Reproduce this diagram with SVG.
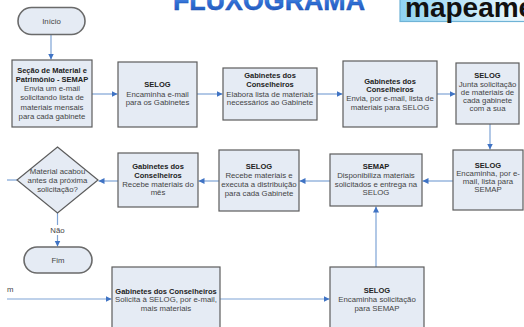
<svg xmlns="http://www.w3.org/2000/svg" width="524" height="327" viewBox="0 0 524 327">
<defs>
<style>
.box{fill:#e5ebf4;stroke:#5c5c5c;stroke-width:1.2}
.term{fill:#e5ebf4;stroke:#6a6a6a;stroke-width:1.6}
.b{font-family:"Liberation Sans",Arial,sans-serif;font-size:7.5px;font-weight:bold;fill:#222;text-anchor:middle}
.t{font-family:"Liberation Sans",Arial,sans-serif;font-size:7.8px;fill:#444;text-anchor:middle}
.c{fill:none;stroke:#7ea3d6;stroke-width:1.2}
</style>
<marker id="ah" markerWidth="8" markerHeight="8" refX="6" refY="3" orient="auto" markerUnits="userSpaceOnUse">
<path d="M0,0 L6,3 L0,6 Z" fill="#3f73c4"/>
</marker>
<linearGradient id="tg" x1="0" y1="0" x2="0" y2="1">
<stop offset="0" stop-color="#9cc6f5"/>
<stop offset="0.55" stop-color="#2f6fd6"/>
<stop offset="1" stop-color="#1d4fb2"/>
</linearGradient>
<linearGradient id="mg" x1="0" y1="0" x2="1" y2="0">
<stop offset="0" stop-color="#8fd3f2"/>
<stop offset="1" stop-color="#f2fbff"/>
</linearGradient>
</defs>

<g id="title">
<text x="173" y="10" font-family="'Liberation Sans',Arial,sans-serif" font-weight="bold" font-size="27" fill="url(#tg)" stroke="#1d4fb2" stroke-width="0.4" textLength="192" lengthAdjust="spacingAndGlyphs">FLUXOGRAMA</text>
</g>
<g id="mapeamento">
<rect x="400" y="-6" width="130" height="27.5" fill="url(#mg)" stroke="#6fb3d6" stroke-width="1.2"/>
<text x="405" y="17" font-family="'Liberation Sans',Arial,sans-serif" font-weight="bold" font-size="28" fill="#111">mapeamento</text>
</g>

<g id="connectors">
<path class="c" d="M51,35 V59.5" marker-end="url(#ah)"/>
<path class="c" d="M92,94 H117.5" marker-end="url(#ah)"/>
<path class="c" d="M197,94 H222.5" marker-end="url(#ah)"/>
<path class="c" d="M317,94 H342.5" marker-end="url(#ah)"/>
<path class="c" d="M437,94 H455.5" marker-end="url(#ah)"/>
<path class="c" d="M490,124 V149.5" marker-end="url(#ah)"/>
<path class="c" d="M453,181 H422.5" marker-end="url(#ah)"/>
<path class="c" d="M330,181 H299.5" marker-end="url(#ah)"/>
<path class="c" d="M219,181 H198.5" marker-end="url(#ah)"/>
<path class="c" d="M118,181 H98.5" marker-end="url(#ah)"/>
<path class="c" d="M17,180 H7"/>
<path class="c" d="M57.5,213 V246.5" marker-end="url(#ah)"/>
<path class="c" d="M376,267 V206.5" marker-end="url(#ah)"/>
<path class="c" d="M7,299 H111.5" marker-end="url(#ah)"/>
<path class="c" d="M220,299 H329.5" marker-end="url(#ah)"/>
<rect x="47" y="225" width="21" height="10" fill="#fff"/>
<text x="57.5" y="233" font-family="'Liberation Sans',Arial,sans-serif" font-size="7.8" fill="#444" text-anchor="middle">Não</text>
<text x="7" y="292" font-family="'Liberation Sans',Arial,sans-serif" font-size="7.8" fill="#444">m</text>
</g>

<g id="inicio">
<rect class="term" x="18" y="7.5" width="67" height="27" rx="13.5"/>
<text class="t" x="51.5" y="23.8">Início</text>
</g>

<g id="semap1">
<rect class="box" x="12" y="60" width="80" height="67"/>
<text class="b" x="52" y="72.8">Seção de Material e</text>
<text class="b" x="52" y="81.8">Patrimônio - SEMAP</text>
<text class="t" x="52" y="91">Envia um e-mail</text>
<text class="t" x="52" y="100.3">solicitando lista de</text>
<text class="t" x="52" y="109.6">materiais mensais</text>
<text class="t" x="52" y="118.9">para cada gabinete</text>
</g>

<g id="selog1">
<rect class="box" x="118" y="62" width="79" height="65"/>
<text class="b" x="157.5" y="87">SELOG</text>
<text class="t" x="157.5" y="96.8">Encaminha e-mail</text>
<text class="t" x="157.5" y="105.3">para os Gabinetes</text>
</g>

<g id="gab1">
<rect class="box" x="223" y="68" width="94" height="52"/>
<text class="b" x="270" y="78.3">Gabinetes dos</text>
<text class="b" x="270" y="87.3">Conselheiros</text>
<text class="t" x="270" y="96.6">Elabora lista de materiais</text>
<text class="t" x="270" y="105.3">necessários ao Gabinete</text>
</g>

<g id="gab2">
<rect class="box" x="343" y="61" width="94" height="66"/>
<text class="b" x="390" y="83.6">Gabinetes dos</text>
<text class="b" x="390" y="92">Conselheiros</text>
<text class="t" x="390" y="101">Envia, por e-mail, lista de</text>
<text class="t" x="390" y="109.5">materiais para SELOG</text>
</g>

<g id="selog2">
<rect class="box" x="456" y="63" width="63" height="61"/>
<text class="b" x="487.5" y="78.3">SELOG</text>
<text class="t" x="487.5" y="86.7">Junta solicitação</text>
<text class="t" x="487.5" y="95">de materiais de</text>
<text class="t" x="487.5" y="103.3">cada gabinete</text>
<text class="t" x="487.5" y="111.2">com a sua</text>
</g>

<g id="selog3">
<rect class="box" x="453" y="150" width="70" height="60"/>
<text class="b" x="488" y="167.6">SELOG</text>
<text class="t" x="488" y="175.6">Encaminha, por e-</text>
<text class="t" x="488" y="183.8">mail, lista para</text>
<text class="t" x="488" y="191.8">SEMAP</text>
</g>

<g id="semap2">
<rect class="box" x="330" y="154" width="92" height="52"/>
<text class="b" x="376" y="168.7">SEMAP</text>
<text class="t" x="376" y="177.7">Disponibiliza materiais</text>
<text class="t" x="376" y="186.7">solicitados e entrega na</text>
<text class="t" x="376" y="195.4">SELOG</text>
</g>

<g id="selog4">
<rect class="box" x="219" y="150" width="80" height="61"/>
<text class="b" x="259" y="168.7">SELOG</text>
<text class="t" x="259" y="177.7">Recebe materiais e</text>
<text class="t" x="259" y="186.7">executa a distribuição</text>
<text class="t" x="259" y="195.7">para cada Gabinete</text>
</g>

<g id="gab3">
<rect class="box" x="118" y="153" width="80" height="54"/>
<text class="b" x="158" y="168.7">Gabinetes dos</text>
<text class="b" x="158" y="177.7">Conselheiros</text>
<text class="t" x="158" y="187">Recebe materiais do</text>
<text class="t" x="158" y="195.4">mês</text>
</g>

<g id="decisao">
<polygon class="box" points="57.5,147 98,180 57.5,213 17,180"/>
<text class="t" x="57.5" y="174.4">Material acabou</text>
<text class="t" x="57.5" y="183.4">antes da próxima</text>
<text class="t" x="57.5" y="191.7">solicitação?</text>
</g>

<g id="fim">
<rect class="term" x="24" y="247" width="68" height="26" rx="13"/>
<text class="t" x="58" y="262.8">Fim</text>
</g>

<g id="gab4">
<rect class="box" x="112" y="267" width="108" height="70"/>
<text class="b" x="166" y="293.7">Gabinetes dos Conselheiros</text>
<text class="t" x="166" y="302">Solicita à SELOG, por e-mail,</text>
<text class="t" x="166" y="310.7">mais materiais</text>
</g>

<g id="selog5">
<rect class="box" x="330" y="267" width="94" height="70"/>
<text class="b" x="377" y="293.4">SELOG</text>
<text class="t" x="377" y="302">Encaminha solicitação</text>
<text class="t" x="377" y="310.7">para SEMAP</text>
</g>
</svg>
